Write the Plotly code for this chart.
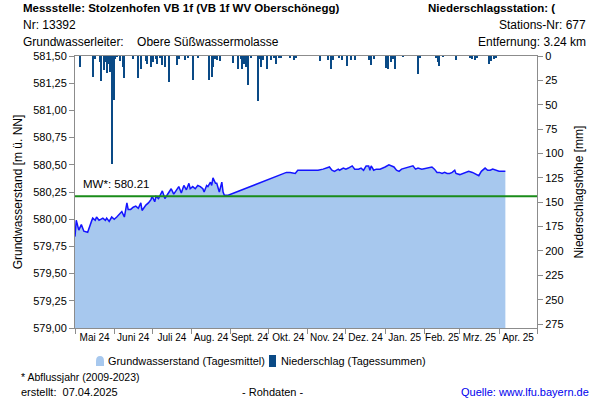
import pandas as pd
import plotly.graph_objects as go

# Grundwasserstand (Tagesmittel) - Tage ab 01.05.2024, Werte in m ü. NN
gw_tag = [0, 1, 3, 5, 7, 10, 13, 14, 16, 17, 19, 22, 24, 25, 27, 29, 31, 33, 37, 39,
          41, 42, 44, 46, 48, 50, 52, 53, 56, 58, 60, 61, 63, 64, 66, 69, 71, 73, 76, 78,
          80, 82, 84, 86, 88, 90, 91, 93, 95, 97, 99, 101, 102, 104, 105, 107, 108, 109, 111, 112,
          114, 116, 117, 118, 121, 167, 170, 174, 176, 178, 183, 187, 192, 196, 199, 201, 203, 205, 208, 209,
          212, 214, 216, 219, 221, 224, 226, 228, 230, 232, 233, 234, 236, 238, 241, 244, 245, 248, 250, 252,
          254, 256, 258, 261, 263, 265, 267, 269, 271, 274, 278, 282, 284, 286, 288, 290, 292, 294, 296, 298,
          300, 301, 304, 307, 309, 311, 314, 316, 319, 321, 324, 326, 328, 330, 332, 335, 337, 340]
gw_wert = [579.84, 579.99, 579.90, 579.95, 579.89, 579.88, 579.98, 580.01, 579.99, 580.02,
           579.99, 580.01, 579.99, 580.01, 579.98, 580.02, 580.00, 580.02, 580.07, 580.02,
           580.15, 580.09, 580.09, 580.11, 580.12, 580.10, 580.15, 580.08, 580.13, 580.15,
           580.18, 580.21, 580.16, 580.21, 580.19, 580.26, 580.19, 580.23, 580.28, 580.23,
           580.26, 580.30, 580.24, 580.31, 580.27, 580.33, 580.28, 580.30, 580.28, 580.31,
           580.30, 580.28, 580.25, 580.31, 580.30, 580.34, 580.31, 580.38, 580.33, 580.33,
           580.25, 580.34, 580.25, 580.22, 580.22, 580.43, 580.43, 580.42, 580.45, 580.45,
           580.45, 580.45, 580.45, 580.46, 580.47, 580.48, 580.45, 580.44, 580.46, 580.45,
           580.47, 580.46, 580.47, 580.49, 580.46, 580.46, 580.47, 580.45, 580.49, 580.49,
           580.45, 580.49, 580.45, 580.46, 580.46, 580.47, 580.48, 580.50, 580.49, 580.48,
           580.45, 580.44, 580.46, 580.47, 580.48, 580.48, 580.49, 580.46, 580.47, 580.46,
           580.47, 580.48, 580.46, 580.43, 580.43, 580.42, 580.43, 580.42, 580.42, 580.43,
           580.45, 580.42, 580.41, 580.42, 580.43, 580.44, 580.43, 580.42, 580.40, 580.44,
           580.47, 580.45, 580.45, 580.46, 580.45, 580.44, 580.44, 580.44]

# Niederschlag (Tagessummen) - Tage ab 01.05.2024, Werte in mm
ns_tag = [4, 14, 16, 20, 21, 23, 24, 25, 27, 28, 29, 31, 32, 33, 36, 38, 39, 46, 50, 52,
          56, 57, 60, 62, 64, 65, 67, 69, 71, 74, 81, 82, 87, 89, 93, 97, 106, 108, 109, 111,
          112, 115, 125, 129, 131, 132, 134, 135, 136, 137, 139, 145, 146, 147, 149, 152, 155, 157, 159, 161,
          163, 170, 173, 175, 194, 200, 202, 204, 209, 211, 215, 218, 221, 232, 234, 236, 246, 247, 250, 251,
          253, 259, 271, 273, 285, 287, 288, 291, 301, 312, 314, 316, 318, 327, 329, 331, 333]
ns_wert = [11.6, 21.8, 2.7, 6.0, 26.0, 14.7, 6.0, 17.0, 8.0, 16.0, 111.0, 45.0, 3.0, 1.0, 5.5, 11.0, 22.6, 3.0, 23.0, 13.7,
           5.5, 8.0, 11.0, 6.0, 3.0, 8.5, 2.0, 9.0, 11.0, 27.0, 9.0, 3.0, 4.0, 2.0, 25.0, 2.0, 25.0, 21.5, 11.0, 3.0,
           4.5, 5.5, 7.0, 13.0, 3.0, 13.0, 8.0, 11.0, 3.0, 30.0, 2.0, 46.5, 3.0, 11.0, 4.5, 13.0, 4.5, 2.5, 8.0, 2.0,
           2.0, 2.0, 4.5, 2.5, 5.5, 4.0, 13.0, 4.5, 2.5, 4.5, 10.0, 4.0, 4.5, 4.0, 9.0, 3.0, 12.0, 13.0, 6.0, 3.0,
           13.7, 1.0, 18.0, 2.0, 2.5, 6.0, 10.0, 1.0, 4.5, 2.0, 3.0, 4.0, 2.0, 8.0, 5.5, 3.0, 2.0]

monate = ["Mai 24", "Juni 24", "Juli 24", "Aug. 24", "Sept. 24", "Okt. 24", "Nov. 24",
          "Dez. 24", "Jan. 25", "Feb. 25", "Mrz. 25", "Apr. 25"]
mittelwert = 580.21

start = pd.Timestamp("2024-05-01")
gw_datum = start + pd.to_timedelta(gw_tag, unit="D")
ns_datum = start + pd.to_timedelta(ns_tag, unit="D")
monatsanfang = pd.date_range("2024-05-01", "2025-05-01", freq="MS")
monatsmitte = monatsanfang[:-1] + (monatsanfang[1:] - monatsanfang[:-1]) / 2

schrift = "Liberation Sans, Arial, sans-serif"
grau = "#8c8c8c"
hellblau = "#a7c8ee"
dunkelblau = "#0a4a86"

# Plotbereich in Pixeln
L, R, T, B = 75, 537, 56, 328


def px(x, y):
    return (x - L) / (R - L), (B - y) / (B - T)


def text(t, x, y, anchor="left", size=12, color="black"):
    xp, yp = px(x, y)
    return dict(text=t, x=xp, y=yp, xref="paper", yref="paper", xanchor=anchor,
                yanchor="middle", showarrow=False, font=dict(size=size, color=color, family=schrift))


def rechteck(x0, y0, x1, y1, farbe):
    a, b = px(x0, y0)
    c, d = px(x1, y1)
    return dict(type="rect", xref="paper", yref="paper", x0=a, y0=b, x1=c, y1=d,
                fillcolor=farbe, line=dict(width=0), layer="above")


fig = go.Figure()

fig.add_trace(go.Scatter(
    x=gw_datum, y=gw_wert, mode="lines", fill="tozeroy",
    fillcolor=hellblau, line=dict(width=0, color=hellblau),
    name="Grundwasserstand (Tagesmittel)", hoverinfo="skip"
))
fig.add_trace(go.Scatter(
    x=gw_datum, y=gw_wert, mode="lines",
    line=dict(width=1.5, color="#1414ff"), name="Grundwasserstand"
))
fig.add_trace(go.Bar(
    x=ns_datum, y=ns_wert, yaxis="y2", width=86400000,
    marker=dict(color=dunkelblau, line=dict(width=0)),
    name="Niederschlag (Tagessummen)"
))

# Legende von Hand, damit sie eng wie im Original bleibt
a0, b0 = px(96, 366)
a1, b1 = px(104, 356)
am = (a0 + a1) / 2
symbol_gw = dict(type="path", xref="paper", yref="paper", fillcolor=hellblau, line=dict(width=0),
                 path=f"M {a0},{b0} L {a0},{(b0 + b1) / 2} Q {a0},{b1} {am},{b1} "
                      f"Q {a1},{b1} {a1},{(b0 + b1) / 2} L {a1},{b0} Z")

formen = [
    dict(type="line", xref="paper", x0=0, x1=1, yref="y", y0=mittelwert, y1=mittelwert,
         line=dict(color="#1a8c1a", width=2)),
    symbol_gw,
    rechteck(269, 355, 276, 367, dunkelblau),
]

anmerkungen = [
    text("<b>Messstelle: Stolzenhofen VB 1f (VB 1f WV Oberschönegg)</b>", 21, 8, size=11.5),
    text("Nr: 13392", 21, 25),
    text("Grundwasserleiter:    Obere Süßwassermolasse", 21, 42),
    text("<b>Niederschlagsstation: (</b>", 426, 8, size=11.5),
    text("Stations-Nr: 677", 588, 25, anchor="right"),
    text("Entfernung: 3.24 km", 588, 42, anchor="right"),
    text("MW*: 580.21", 81, 184, size=11.5),
    text("Grundwasserstand (Tagesmittel)", 106, 361, size=10.9),
    text("Niederschlag (Tagessummen)", 279, 361, size=10.9),
    text("* Abflussjahr (2009-2023)", 19, 377, size=10.5),
    text("erstellt:  07.04.2025", 19, 392, size=11),
    text("- Rohdaten -", 272, 392, anchor="center", size=11),
    text("Quelle: www.lfu.bayern.de", 591, 392, anchor="right", size=11, color="#0000ee"),
]

fig.update_layout(
    width=600, height=400,
    margin=dict(l=L, r=600 - R, t=T, b=400 - B),
    paper_bgcolor="white", plot_bgcolor="white",
    separators=",.",
    font=dict(family=schrift, size=11, color="black"),
    showlegend=False,
    annotations=anmerkungen,
    shapes=formen,
    bargap=0,
    xaxis=dict(
        type="date", range=[monatsanfang[0], monatsanfang[-1]],
        tickvals=monatsmitte, ticktext=monate, ticks="", tickangle=0,
        tickfont=dict(size=10, color="black"), showgrid=False, zeroline=False,
        showline=True, linecolor=grau, linewidth=1, mirror=True,
        minor=dict(tickvals=monatsanfang, ticks="outside", ticklen=5, tickcolor=grau, showgrid=False),
    ),
    yaxis=dict(
        range=[579.0, 581.5], dtick=0.25, tickformat=".2f",
        title=dict(text="Grundwasserstand [m ü. NN]", font=dict(size=12), standoff=7),
        ticks="outside", ticklen=5, tickcolor=grau, showgrid=False, zeroline=False,
        showline=True, linecolor=grau, linewidth=1, tickfont=dict(size=11),
    ),
    yaxis2=dict(
        overlaying="y", side="right", range=[279, 0], dtick=25,
        title=dict(text="Niederschlagshöhe [mm]", font=dict(size=12), standoff=12),
        ticks="outside", ticklen=5, tickcolor=grau, showgrid=False, zeroline=False,
        showline=True, linecolor=grau, linewidth=1, tickfont=dict(size=11),
    ),
)

# Seitenrand des Browsers entfernen, damit die Grafik bei (0, 0) beginnt
fig.write_html("out.html", config={"displayModeBar": False},
               post_script="document.body.style.margin = '0px';")
